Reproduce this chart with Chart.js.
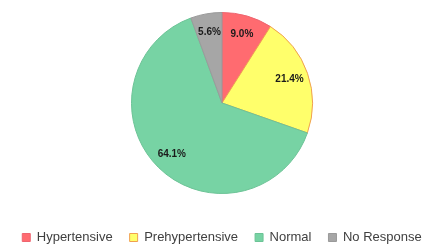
<!DOCTYPE html>
<html>
<head>
<meta charset="utf-8">
<script src="https://cdn.jsdelivr.net/npm/chart.js@4"></script>
<style>
  html, body { margin: 0; padding: 0; background: #fff; }
  #wrap { width: 444px; height: 246px; }
</style>
</head>
<body>
<div id="wrap"><canvas id="bpChart"></canvas></div>
<script>
const categories = ['Hypertensive', 'Prehypertensive', 'Normal', 'No Response'];
const percents = [9.0, 21.4, 64.1, 5.6];
const sliceColors = ['#FF6B70', '#FFFF6B', '#77D3A4', '#A6A6A6'];
const edgeColors = ['#EE6570', '#F0A050', '#6CC396', '#9A9A9A'];

// draws the % labels inside each slice
const sliceLabels = {
    id: 'sliceLabels',
    afterDatasetsDraw(chart) {
        const ctx = chart.ctx;
        const meta = chart.getDatasetMeta(0);
        ctx.save();
        ctx.font = 'bold 10px "Liberation Sans", Arial, sans-serif';
        ctx.fillStyle = '#1a1a1a';
        ctx.textAlign = 'center';
        ctx.textBaseline = 'middle';
        meta.data.forEach((arc, i) => {
            const p = arc.getProps(['x', 'y', 'startAngle', 'endAngle', 'outerRadius'], true);
            const mid = (p.startAngle + p.endAngle) / 2;
            const r = p.outerRadius * 0.79;
            ctx.fillText(percents[i].toFixed(1) + '%', p.x + Math.cos(mid) * r, p.y + Math.sin(mid) * r);
        });
        ctx.restore();
    }
};

// legend box gets a fixed height, and its row is pushed lower
const legendSpot = {
    id: 'legendSpot',
    beforeInit(chart) {
        const fit = chart.legend.fit;
        chart.legend.fit = function () {
            fit.call(this);
            this.height = 52;
        };
    },
    afterLayout(chart) {
        chart.legend.top += 20;
        chart.legend.bottom += 20;
    }
};

const bpCTX = document.getElementById('bpChart');
const bpChart = new Chart(bpCTX, {
    type: 'pie',
    data: {
        labels: categories,
        datasets: [{
            data: percents,
            backgroundColor: sliceColors,
            borderColor: edgeColors,
            borderWidth: 1
        }]
    },
    options: {
        responsive: true,
        maintainAspectRatio: false,
        animation: false,
        layout: { padding: { top: 12, bottom: 0 } },
        plugins: {
            legend: {
                display: true,
                position: 'bottom',
                labels: {
                    boxWidth: 8,
                    boxHeight: 8,
                    padding: 17,
                    color: '#404040',
                    font: { size: 13, family: '"Liberation Sans", Arial, sans-serif' }
                }
            },
            tooltip: { enabled: false }
        }
    },
    plugins: [sliceLabels, legendSpot]
});
</script>
</body>
</html>
